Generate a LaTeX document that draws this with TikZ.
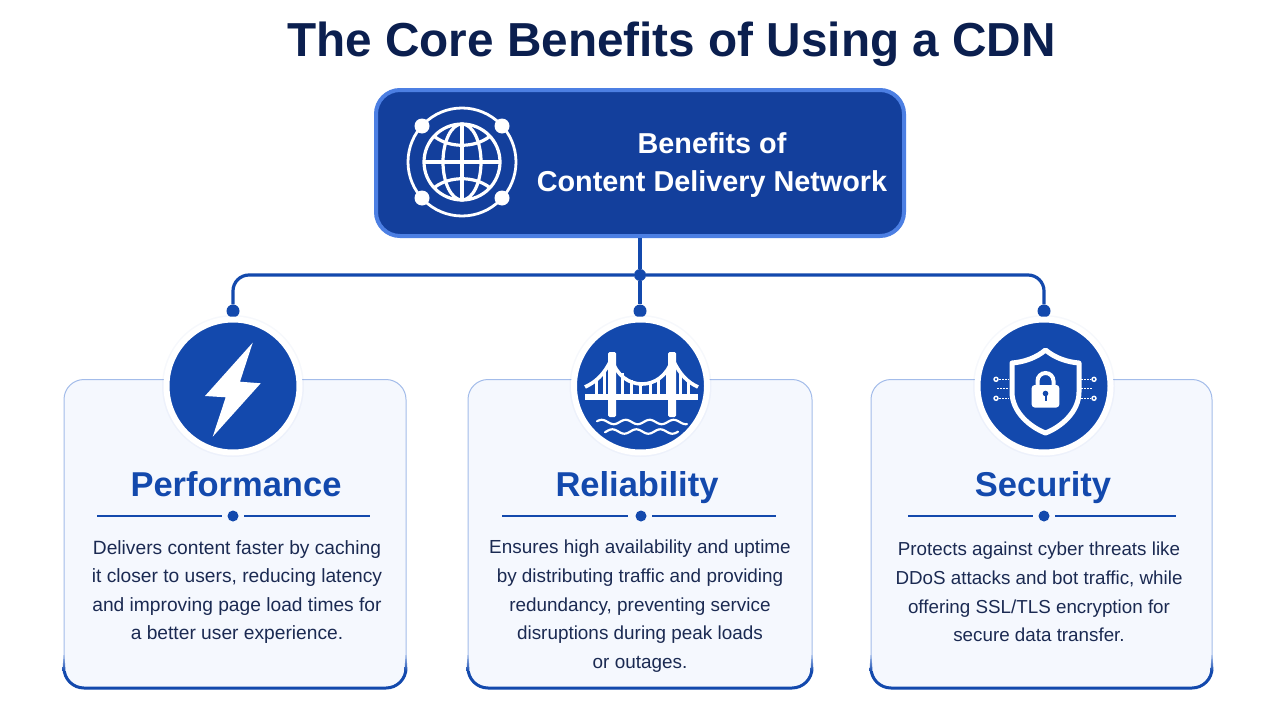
\documentclass[tikz,border=0pt]{standalone}
\usepackage{fontspec}
\setmainfont{Liberation Sans}
\usetikzlibrary{calc}
\definecolor{navy}{HTML}{0B1F4F}
\definecolor{brand}{HTML}{1349AD}
\definecolor{rootfill}{HTML}{133F9C}
\definecolor{rootline}{HTML}{4C7FE3}
\definecolor{cardfill}{HTML}{F5F8FE}
\definecolor{cardline}{HTML}{A3BCEA}
\definecolor{bodytext}{HTML}{1B2A52}
\colorlet{pagebg}{white!97!cardfill}
\tikzset{
  wire/.style={draw=brand,line width=3.2pt},
  blob/.style={circle,fill=brand,draw=none,minimum size=13pt,inner sep=0pt},
  rule/.style={draw=brand,line width=1.4pt},
  ruledot/.style={circle,fill=brand,draw=none,minimum size=11pt,inner sep=0pt},
  badge/.style={circle,fill=brand,draw=white,line width=6pt,minimum size=133pt,inner sep=0pt},
  cardhead/.style={font=\fontsize{34.5}{36}\selectfont\bfseries,text=brand,inner sep=0pt,anchor=base},
  cardbody/.style={font=\fontsize{19.2}{28.6}\selectfont,text=bodytext,align=center,inner sep=0pt,anchor=north},
  icon/.style={draw=white,line width=3.2pt,fill=none},
  iconthin/.style={draw=white,line width=2.2pt,fill=none,line cap=round},
}
\newcommand{\softshadow}[4]{%
  \foreach \g in {10,8,6,4,2}{
    \fill[brand,opacity=0.007,rounded corners=22pt] ($(#1-\g pt,#2-\g pt)$) rectangle ($(#3+\g pt,#4+\g pt+3pt)$);
  }}
\begin{document}
\begin{tikzpicture}[x=1pt,y=-1pt]
\useasboundingbox (0,0) rectangle (1280,720);
\fill[pagebg] (0,0) rectangle (1280,720);

\node[font=\fontsize{47.7}{54}\selectfont\bfseries,text=navy,inner sep=0pt,anchor=base] (title) at (671.5,56) {The Core Benefits of Using a CDN};

% cards
\softshadow{64}{379}{406}{689}
\softshadow{468}{379}{812}{689}
\softshadow{871}{379}{1212}{689}
\foreach \n/\l/\r in {A/64/406,B/468/812,C/871/1212}{
  \node[draw=cardline,line width=1pt,fill=cardfill,rounded corners=20pt,minimum width={\r-\l},minimum height=309pt,inner sep=0pt] (card\n) at ({(\l+\r)/2},534) {};
  \begin{scope}
    \clip (\l-4,671) rectangle (\r+4,695);
    \draw[draw=brand,line width=3pt,rounded corners=20pt] (\l,600) -- (\l,688) -- (\r,688) -- (\r,600);
  \end{scope}
  \shade[top color=cardline,bottom color=brand] (\l-.5,655) -- (\l+.5,655) -- (\l+1.5,671.2) -- (\l-1.5,671.2) -- cycle;
  \shade[top color=cardline,bottom color=brand] (\r-.5,655) -- (\r+.5,655) -- (\r+1.5,671.2) -- (\r-1.5,671.2) -- cycle;
}

% root
\node[draw=rootline,line width=4pt,fill=rootfill,rounded corners=24pt,minimum width=528pt,minimum height=146pt,inner sep=0pt] (root) at (640,163) {};
\node[font=\fontsize{28.8}{38}\selectfont\bfseries,text=white,align=center,inner sep=0pt,anchor=north] (roottext) at (712,132) {Benefits of\\Content Delivery Network};

% connectors
\node[blob,minimum size=12pt] (hub) at (640,275) {};
\node[blob] (dotA) at (233,311) {};
\node[blob] (dotB) at (640,311) {};
\node[blob] (dotC) at (1044,311) {};
\draw[wire] (root.south) -- (hub);
\draw[wire] (hub) -- (dotB);
\draw[wire,rounded corners=16pt] (hub) -| (dotA);
\draw[wire,rounded corners=16pt] (hub) -| (dotC);

% badges
\foreach \x in {233,640.5,1044}{
  \fill[brand,opacity=.035] (\x,386) circle (71);
}
\node[badge] (badgeA) at (233,386) {};
\node[badge] (badgeB) at (640.5,386) {};
\node[badge] (badgeC) at (1044,386) {};

% globe
\begin{scope}[shift={(462,162)}]
  \draw[icon,line width=2.8pt] (0,0) circle (54);
  \draw[icon] (0,0) circle (38);
  \draw[icon] (0,0) ellipse (19 and 38);
  \draw[icon] (0,-38) -- (0,38);
  \draw[icon] (-38,0) -- (38,0);
  \draw[icon] (-27,-25) .. controls (-12,-14) and (12,-14) .. (27,-25);
  \draw[icon] (-27,25) .. controls (-12,14) and (12,14) .. (27,25);
  \foreach \p in {(-40,-36),(40,-36),(-40,36),(40,36)}{
    \fill[white] \p circle (7.5);
  }
\end{scope}

% bolt
\fill[white] (252.7,342.7) -- (240,381.7) -- (260.7,383.3) -- (212.7,436.7) -- (225.7,397.3) -- (205,396) -- cycle;

% bridge
\begin{scope}
  \fill[white] (585,394) rectangle (698,400);
  \fill[white,rounded corners=1.5pt] (608,352) rectangle (616,417);
  \fill[white,rounded corners=1.5pt] (668,352) rectangle (676,417);
  \draw[icon,line width=3.6pt] (612,360) .. controls (622,392) and (662,392) .. (672,360);
  \draw[icon,line width=3.6pt] (585,387) .. controls (596,382) and (604,374) .. (610,362);
  \draw[icon,line width=3.6pt] (698,387) .. controls (687,382) and (680,374) .. (674,362);
  \foreach \x/\y in {596/381,604/372,622/373,631/380,640/384,650/384,658/380,667/372,680/372,688/381}{
    \draw[white,line width=3pt] (\x,\y) -- (\x,395);
  }
  \draw[iconthin,smooth] plot[domain=597:687,samples=60] (\x,{422+2.2*sin(15*(\x-597)+200)});
  \draw[iconthin,smooth] plot[domain=605:678,samples=50] (\x,{431.5+2.2*sin(15*(\x-605)+160)});
\end{scope}

% shield
\begin{scope}
  \draw[icon,line width=5pt,line join=round] (1045.5,350) .. controls (1036,358) and (1024,362) .. (1012,363) -- (1012,392) .. controls (1012,412) and (1030,427) .. (1045.5,433) .. controls (1061,427) and (1079,412) .. (1079,392) -- (1079,363) .. controls (1067,362) and (1055,358) .. cycle;
  \fill[white,rounded corners=3pt] (1031.7,385) rectangle (1059.3,407.5);
  \draw[icon,line width=4pt] (1037.5,386) -- (1037.5,381) arc[start angle=180,end angle=0,x radius=8,y radius=-8] -- (1053.5,386);
  \fill[brand] (1045.5,393.5) circle (2.8);
  \fill[brand] (1044.5,394) rectangle (1046.5,401);
  \foreach \y in {379.3,398.3}{
    \draw[white,line width=1.4pt] (996,\y) circle (2);
    \draw[white,line width=1.4pt] (1094,\y) circle (2);
    \draw[white,line width=1.4pt,dash pattern=on 2pt off 1pt] (999,\y) -- (1009,\y);
    \draw[white,line width=1.4pt,dash pattern=on 2pt off 1pt] (1081,\y) -- (1091,\y);
  }
  \draw[white,line width=1.4pt,dash pattern=on 2pt off 1pt] (997,388.7) -- (1009,388.7);
  \draw[white,line width=1.4pt,dash pattern=on 2pt off 1pt] (1081,388.7) -- (1093,388.7);
\end{scope}

% headings
\node[cardhead] (headA) at (236,496) {Performance};
\node[cardhead] (headB) at (637,496) {Reliability};
\node[cardhead] (headC) at (1043,496) {Security};

% dividers
\node[ruledot] (ruleA) at (233,516) {};
\node[ruledot] (ruleB) at (641,516) {};
\node[ruledot] (ruleC) at (1044,516) {};
\coordinate (ruleAl) at (97,516); \coordinate (ruleAr) at (370,516);
\coordinate (ruleBl) at (502,516); \coordinate (ruleBr) at (776,516);
\coordinate (ruleCl) at (908,516); \coordinate (ruleCr) at (1176,516);
\draw[rule] (ruleAl) -- ($(ruleA)+(-11,0)$) ($(ruleA)+(11,0)$) -- (ruleAr);
\draw[rule] (ruleBl) -- ($(ruleB)+(-13,0)$) ($(ruleB)+(11,0)$) -- (ruleBr);
\draw[rule] (ruleCl) -- ($(ruleC)+(-11,0)$) ($(ruleC)+(11,0)$) -- (ruleCr);

% bodies
\node[cardbody] (bodyA) at (237,540) {Delivers content faster by caching\\it closer to users, reducing latency\\and improving page load times for\\a better user experience.};
\node[cardbody,font=\fontsize{18.9}{28.6}\selectfont] (bodyB) at (640,540) {Ensures high availability and uptime\\by distributing traffic and providing\\redundancy, preventing service\\disruptions during peak loads\\or outages.};
\node[cardbody,font=\fontsize{18.8}{28.6}\selectfont] (bodyC) at (1039,542) {Protects against cyber threats like\\DDoS attacks and bot traffic, while\\offering SSL/TLS encryption for\\secure data transfer.};
\end{tikzpicture}
\end{document}
